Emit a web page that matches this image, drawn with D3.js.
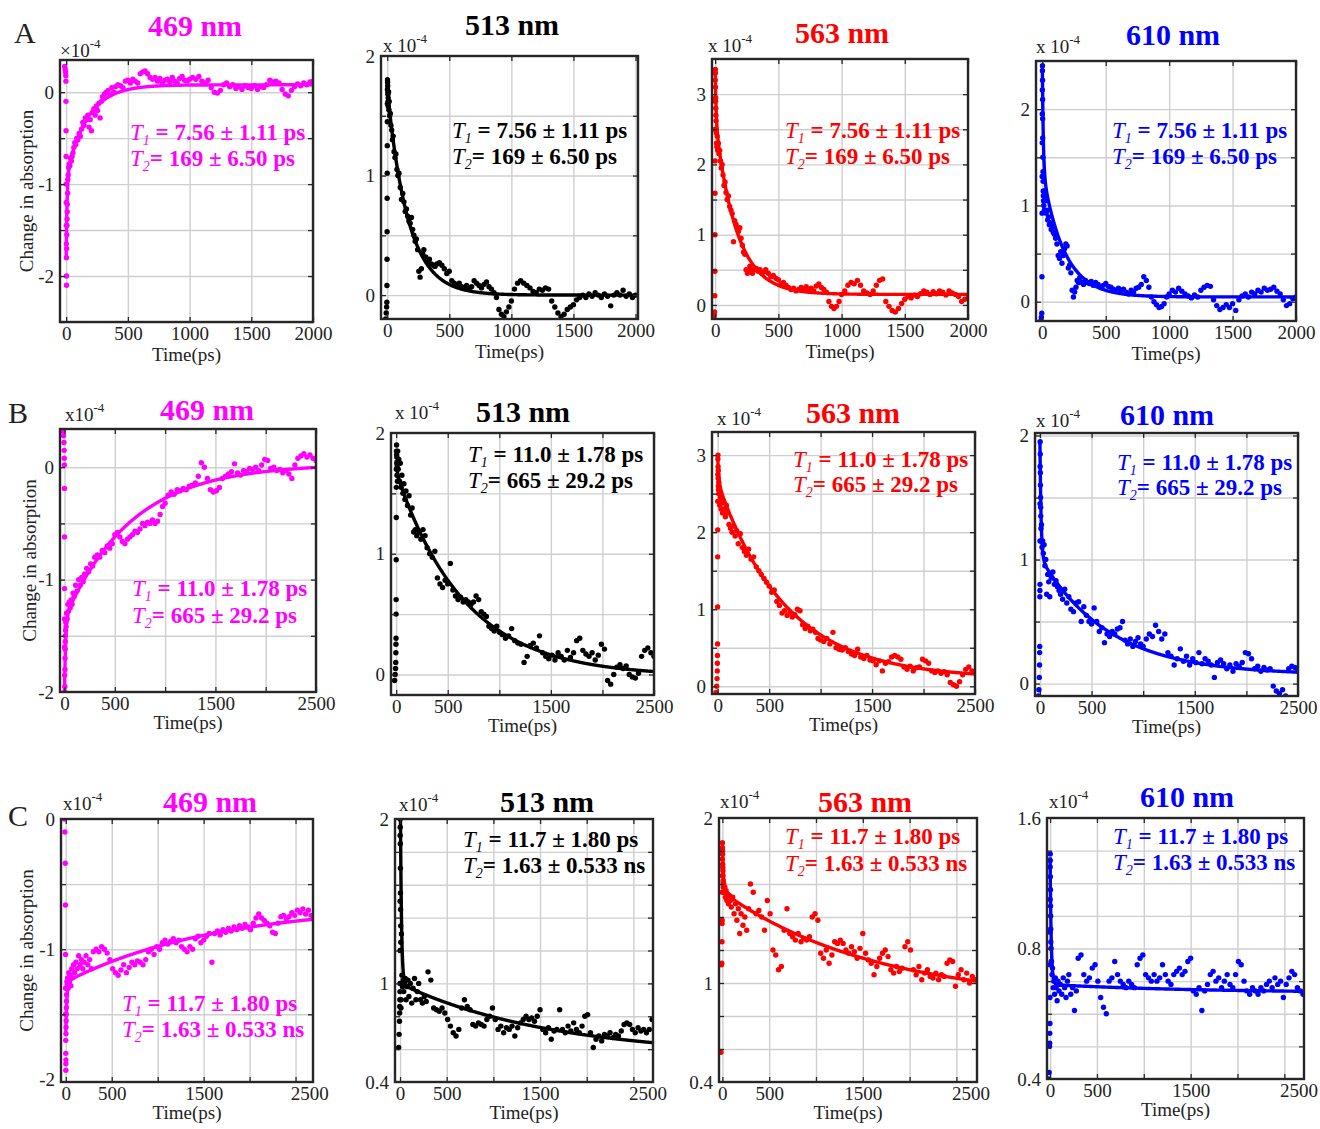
<!DOCTYPE html>
<html><head><meta charset="utf-8">
<script src="https://cdn.jsdelivr.net/npm/d3@7"></script>
<style>
body{margin:0;background:#fff}
svg{display:block}
text{font-family:"Liberation Serif","Times New Roman",Times,serif;fill:#222}
.grid line{stroke:#cfcfcf;stroke-width:1.4}
.grid path{display:none}
.tk line{stroke:#262626;stroke-width:1.3}
.tk path{display:none}
.lbl path,.lbl line{display:none}
</style>
</head><body>
<svg id="fig" width="1320" height="1129"></svg>
<script>
// ---------- delay times (ps), shared by the four probe wavelengths of a row ----------
const timeA = [-12,-8,-5,-3,-2,-1.5,-1,-0.5,0,0.5,1,1.5,2,2.5,3,4,5,6,7,8,9,
  11,13,16,20,25,30,36,42,48,55,62,70,78,86,95,105,115,125,135,145,155,165,175,185,195,205,215,225,235,245,255,265,275,285,295,
  310,325,340,355,370,385,400,420,440,460,480,500,520,540,560,580,600,620,640,660,680,700,720,740,760,780,800,820,840,860,880,900,920,940,960,980,1000,
  1025,1050,1075,1100,1125,1150,1175,1200,1225,1250,1275,1300,1325,1350,1375,1400,1425,1450,1475,1500,1525,1550,1575,1600,1625,1650,1675,1700,1725,1750,1775,1800,1825,1850,1875,1900,1925,1950,1975,2000];
const timeB = [-15,-10,-6,-4,-3,-2,-1,-0.5,0,0.5,1,1.5,2,3,4,5,6,7,8,10,12,
  15,20,26,33,40,48,56,65,75,85,95,110,125,140,155,170,185,200,220,240,260,280,300,
  325,350,375,400,425,450,475,500,525,550,575,600,625,650,675,700,725,750,775,800,825,850,875,900,925,950,975,1000,
  1030,1060,1090,1120,1150,1180,1210,1240,1270,1300,1330,1360,1390,1420,1450,1480,1510,1540,1570,1600,1630,1660,1690,1720,1750,1780,1810,1840,1870,1900,1930,1960,1990,2020,2050,2080,2110,2140,2170,2200,2230,2260,2290,2320,2350,2380,2410,2440,2470,2500];
const timeC = [-15,-10,-6,-4,-3,-2,-1,-0.5,0,0.5,1,1.5,2,3,4,5,6,7,8,10,12,
  15,20,26,33,40,48,56,65,75,85,95,110,125,140,155,170,185,200,220,240,260,280,300,
  330,360,390,420,450,480,510,540,570,600,630,660,690,720,750,780,810,840,870,900,930,960,990,1020,
  1050,1080,1110,1140,1170,1200,1230,1260,1290,1320,1350,1380,1410,1440,1470,1500,1530,1560,1590,1620,1650,1680,1710,1740,1770,1800,1830,1860,1890,1920,1950,1980,2010,2040,2070,2100,2130,2160,2190,2220,2250,2280,2310,2340,2370,2400,2430,2460,2490,2520,2550,2580,2610,2640,2670,2700];

// ---------- change in absorption (x10^-4) ----------
const dA_A469 = [0.28,0.25,0.22,0.18,0.12,-0.1,-0.42,-0.7,-1.0,-1.2,-1.45,-1.65,-1.8,-2.0,-2.1,-1.7,-1.55,-1.45,-1.38,-1.3,-1.22,
  -1.1,-0.95,-0.9,-0.82,-0.78,-0.8,-0.72,-0.75,-0.7,-0.66,-0.6,-0.55,-0.57,-0.5,-0.52,-0.45,-0.48,-0.4,-0.33,-0.36,-0.28,-0.3,-0.25,-0.38,-0.3,-0.42,-0.22,-0.18,-0.25,-0.15,-0.2,-0.12,-0.28,-0.1,-0.05,
  -0.02,0.0,0.02,-0.03,0.05,0.0,0.06,0.08,0.07,0.05,0.12,0.13,0.1,0.14,0.12,0.1,0.2,0.22,0.23,0.2,0.16,0.14,0.16,0.12,0.15,0.1,0.13,0.14,0.11,0.16,0.12,0.1,0.15,0.17,0.13,0.12,0.14,
  0.16,0.14,0.17,0.12,0.1,0.13,0.05,0.0,-0.01,0.02,0.08,0.1,0.06,0.08,0.04,0.06,0.03,0.07,0.05,0.04,0.07,0.03,0.06,0.05,0.08,0.13,0.11,0.12,0.1,0.03,-0.02,-0.04,0.02,0.06,0.09,0.07,0.1,0.08,0.11,0.12];
const dA_A513 = [-0.2,-0.15,-0.1,-0.06,0.08,0.3,0.53,0.81,1.02,1.25,1.45,1.6,1.72,1.8,1.78,1.75,1.7,1.68,1.62,1.65,1.58,
  1.7,1.55,1.62,1.5,1.52,1.42,1.38,1.3,1.33,1.2,1.15,1.18,1.05,1.0,1.02,0.9,0.8,0.85,0.78,0.7,0.72,0.66,0.62,0.6,0.65,0.55,0.5,0.45,0.47,0.38,0.2,0.15,0.22,0.35,0.38,
  0.32,0.28,0.3,0.26,0.25,0.24,0.26,0.27,0.25,0.22,0.18,0.2,0.12,0.1,0.08,0.1,0.07,0.06,0.08,0.05,0.07,0.12,0.1,0.08,0.06,0.09,0.11,0.07,0.05,0.02,-0.02,-0.12,-0.16,-0.18,-0.14,-0.1,-0.05,
  0.05,0.1,0.12,0.1,0.08,0.06,0.03,0.02,0.05,0.04,0.06,0.05,-0.05,-0.1,-0.15,-0.18,-0.16,-0.12,-0.1,-0.08,-0.04,-0.02,0.0,-0.02,0.01,-0.01,0.02,0.0,-0.02,0.01,-0.01,-0.09,0.0,0.02,0.0,0.04,-0.01,0.01,-0.02,0.0];
const dA_A563 = [-0.2,-0.15,-0.1,0.13,0.48,1.0,1.59,2.05,2.5,2.9,3.2,3.35,3.3,3.1,2.9,2.95,2.8,2.7,2.62,2.5,2.45,
  2.3,2.25,2.4,2.2,2.3,2.15,2.2,2.05,1.95,2.0,1.85,1.7,1.75,1.6,1.5,1.55,1.4,1.35,1.3,0.9,1.2,1.15,1.1,1.05,1.1,0.95,0.85,0.75,0.72,0.5,0.45,0.48,0.55,0.5,0.45,
  0.5,0.52,0.48,0.5,0.45,0.47,0.5,0.45,0.4,0.42,0.38,0.36,0.3,0.32,0.28,0.25,0.22,0.24,0.2,0.22,0.25,0.23,0.26,0.22,0.24,0.2,0.27,0.3,0.25,0.22,0.18,0.05,-0.02,-0.05,-0.02,0.05,0.15,
  0.2,0.28,0.32,0.3,0.35,0.28,0.2,0.17,0.15,0.2,0.28,0.35,0.37,0.05,-0.02,-0.08,-0.1,-0.05,0.02,0.08,0.12,0.1,0.14,0.12,0.16,0.2,0.18,0.15,0.19,0.16,0.2,0.18,0.14,0.2,0.17,0.15,0.12,0.05,0.08,0.1];
const dA_A610 = [-0.2,-0.16,-0.12,0.26,0.92,1.3,1.65,1.95,2.2,2.4,2.45,2.3,2.1,1.9,1.7,1.5,1.35,1.25,1.15,1.1,1.05,
  1.0,1.1,0.95,1.15,1.05,0.92,0.95,0.85,0.88,0.8,0.82,0.75,0.78,0.72,0.7,0.66,0.6,0.48,0.45,0.52,0.4,0.48,0.55,0.6,0.58,0.35,0.38,0.3,0.12,0.05,0.1,0.15,0.22,0.2,0.25,
  0.2,0.18,0.22,0.2,0.19,0.21,0.17,0.2,0.18,0.15,0.17,0.19,0.16,0.15,0.13,0.12,0.14,0.12,0.13,0.1,0.08,0.12,0.1,0.14,0.15,0.18,0.26,0.22,0.15,0.05,0.0,-0.03,-0.06,-0.05,-0.02,0.05,0.08,
  0.12,0.1,0.14,0.11,0.08,0.06,0.04,0.07,0.05,0.12,0.15,0.17,0.16,0.02,-0.04,-0.08,-0.06,-0.03,-0.06,-0.02,-0.09,0.02,0.06,0.08,0.05,0.1,0.08,0.12,0.1,0.14,0.12,0.13,0.15,0.11,0.08,0.02,-0.04,-0.02,0.03,0.05];

const dA_B469 = [0.32,0.28,0.22,0.15,0.08,0.02,-0.19,-0.62,-1.08,-1.35,-1.6,-1.85,-2.0,-1.95,-1.8,-1.7,-1.62,-1.55,-1.5,-1.45,-1.38,
  -1.42,-1.3,-1.35,-1.22,-1.28,-1.2,-1.25,-1.18,-1.22,-1.12,-1.15,-1.05,-1.1,-1.0,-1.05,-0.98,-1.02,-0.95,-0.9,-0.93,-0.86,-0.88,-0.8,
  -0.78,-0.8,-0.74,-0.76,-0.7,-0.72,-0.68,-0.6,-0.58,-0.62,-0.66,-0.68,-0.64,-0.62,-0.6,-0.57,-0.58,-0.55,-0.5,-0.52,-0.49,-0.5,-0.47,-0.5,-0.48,-0.42,-0.35,-0.32,
  -0.25,-0.22,-0.24,-0.2,-0.21,-0.19,-0.2,-0.17,-0.16,-0.14,-0.08,0.04,0.0,-0.1,-0.2,-0.22,-0.21,-0.18,-0.1,-0.08,-0.06,-0.04,0.03,-0.05,-0.07,-0.03,-0.04,-0.01,-0.02,0.0,
  -0.03,0.02,0.07,0.06,-0.01,0.0,-0.03,-0.02,-0.05,-0.03,-0.06,-0.1,0.02,0.08,0.1,0.12,0.09,0.11,0.08,0.06];
const dA_B513 = [-0.05,0.0,0.05,0.1,0.18,0.25,0.3,0.5,0.62,0.95,1.3,1.55,1.7,1.85,1.9,1.82,1.75,1.8,1.65,1.72,1.6,
  1.85,1.7,1.78,1.6,1.75,1.55,1.65,1.5,1.58,1.45,1.52,1.4,1.48,1.32,1.38,1.18,1.2,1.15,1.18,1.12,1.2,1.15,1.05,
  1.0,0.97,1.02,0.8,0.75,0.72,0.78,0.75,0.92,0.7,0.65,0.62,0.64,0.6,0.62,0.6,0.58,0.6,0.65,0.62,0.52,0.5,0.48,0.4,0.38,0.36,0.4,0.35,
  0.33,0.3,0.32,0.38,0.28,0.26,0.25,0.1,0.15,0.24,0.26,0.22,0.32,0.18,0.15,0.13,0.16,0.12,0.18,0.15,0.12,0.2,0.14,0.18,0.28,0.3,0.2,0.17,0.15,0.18,
  0.12,0.16,0.25,0.21,-0.05,-0.08,0.0,0.06,0.08,0.05,0.07,0.0,-0.02,-0.03,0.01,0.15,0.2,0.22,0.18,0.15];
const dA_B563 = [-0.08,0.0,0.1,0.2,0.3,0.4,0.55,1.03,1.68,2.03,2.4,2.75,2.95,3.0,2.85,2.7,2.8,2.6,2.55,2.65,2.5,
  2.4,2.35,2.45,2.3,2.38,2.25,2.4,2.3,2.2,2.35,2.25,2.1,2.05,2.0,2.08,1.95,2.02,1.85,1.98,1.8,1.75,1.7,1.78,
  1.65,1.68,1.55,1.5,1.45,1.4,1.35,1.3,1.22,1.25,1.1,1.05,0.95,0.98,0.92,0.95,0.9,0.93,1.0,0.98,0.8,0.75,0.78,0.72,0.74,0.7,0.62,0.6,
  0.58,0.62,0.55,0.7,0.5,0.48,0.47,0.5,0.45,0.42,0.4,0.48,0.38,0.36,0.4,0.34,0.33,0.28,0.33,0.2,0.3,0.32,0.38,0.4,0.38,0.35,0.25,0.22,0.26,0.2,
  0.24,0.25,0.35,0.33,0.3,0.2,0.18,0.2,0.17,0.19,0.15,0.05,0.02,0.0,0.06,0.15,0.22,0.25,0.2,0.18];
const dA_B610 = [-0.1,-0.05,0.05,0.15,0.25,0.3,0.7,0.75,0.8,1.15,1.45,1.75,1.95,1.85,1.7,1.6,1.5,1.42,1.35,1.25,1.15,
  1.28,1.1,1.15,1.05,1.12,0.95,1.0,0.72,0.88,0.82,0.7,0.85,0.9,0.8,0.83,0.78,0.75,0.72,0.68,0.76,0.65,0.7,0.6,
  0.58,0.65,0.66,0.5,0.62,0.55,0.5,0.48,0.61,0.5,0.42,0.45,0.33,0.4,0.38,0.42,0.4,0.44,0.45,0.5,0.35,0.32,0.36,0.3,0.34,0.37,0.32,0.3,
  0.36,0.4,0.38,0.47,0.42,0.36,0.4,0.25,0.22,0.15,0.2,0.28,0.18,0.22,0.15,0.2,0.17,0.25,0.16,0.2,0.18,0.15,0.05,0.17,0.19,0.16,0.12,0.15,0.1,0.16,
  0.14,0.17,0.25,0.24,0.2,0.12,0.14,0.1,0.13,0.11,0.12,-0.02,-0.06,-0.08,-0.05,-0.1,0.12,0.14,0.13,0.1];

const dA_C469 = [0.0,-0.1,-0.34,-0.66,-1.04,-1.3,-1.5,-1.7,-1.8,-1.93,-1.88,-1.85,-1.65,-1.6,-1.55,-1.5,-1.45,-1.4,-1.35,-1.3,-1.25,
  -1.28,-1.22,-1.3,-1.18,-1.25,-1.2,-1.28,-1.15,-1.22,-1.12,-1.18,-1.1,-1.15,-1.05,-1.12,-1.08,-1.15,-1.1,-1.05,-1.12,-1.08,-1.15,-1.02,
  -1.0,-1.02,-0.98,-1.0,-1.03,-1.08,-1.15,-1.18,-1.2,-1.16,-1.12,-1.18,-1.14,-1.1,-1.12,-1.09,-1.1,-1.12,-1.08,-1.02,-1.0,-1.04,-0.98,-1.0,
  -0.95,-0.93,-0.96,-0.94,-0.92,-0.95,-0.93,-0.98,-1.0,-1.02,-0.98,-1.0,-0.92,-0.9,-0.95,-0.93,-0.9,-0.88,-1.1,-0.88,
  -0.86,-0.89,-0.85,-0.87,-0.84,-0.86,-0.83,-0.85,-0.82,-0.84,-0.81,-0.83,-0.85,-0.8,-0.76,-0.73,-0.76,-0.78,-0.8,-0.82,
  -0.87,-0.88,-0.8,-0.75,-0.74,-0.77,-0.75,-0.72,-0.74,-0.7,-0.72,-0.69,-0.73,-0.7,-0.74,-0.76];
const dA_C513 = [0.61,0.69,0.77,0.82,0.86,0.9,0.95,1.0,1.2,1.5,1.9,2.0,1.95,1.85,1.7,1.55,1.45,1.35,1.25,0.85,0.9,
  1.3,1.05,0.98,1.02,0.95,1.0,1.03,0.9,0.98,1.02,0.92,1.0,0.88,0.97,1.03,0.9,0.95,1.0,0.9,0.88,0.92,0.89,1.07,
  1.02,0.85,0.84,0.83,0.85,0.82,0.78,0.74,0.7,0.68,0.72,0.85,0.9,0.86,0.84,0.75,0.74,0.76,0.75,0.74,0.78,0.8,0.85,0.78,
  0.72,0.74,0.7,0.73,0.72,0.74,0.68,0.73,0.76,0.78,0.8,0.78,0.79,0.77,0.8,0.84,0.72,0.7,0.73,0.66,
  0.71,0.72,0.84,0.72,0.7,0.74,0.71,0.76,0.72,0.7,0.74,0.8,0.81,0.7,0.61,0.66,0.68,0.65,0.69,0.68,
  0.7,0.67,0.69,0.68,0.71,0.75,0.76,0.75,0.72,0.7,0.73,0.71,0.72,0.7,0.72,0.78];
const dA_C563 = [0.58,1.11,1.12,1.25,1.36,1.38,1.55,1.65,1.75,1.85,1.82,1.78,1.8,1.72,1.7,1.65,1.68,1.6,1.62,1.58,1.55,
  1.6,1.55,1.58,1.52,1.56,1.5,1.54,1.48,1.53,1.5,1.46,1.52,1.42,1.48,1.38,1.45,1.3,1.42,1.35,1.4,1.32,1.45,1.6,
  1.55,1.42,1.44,1.4,1.32,1.5,1.42,1.2,1.17,1.08,1.1,1.32,1.45,1.3,1.28,1.26,1.3,1.25,1.27,1.26,1.28,1.4,1.42,1.38,
  1.18,1.15,1.2,1.12,1.17,1.25,1.24,1.26,1.24,1.2,1.18,1.22,1.19,1.15,1.21,1.3,1.18,1.14,1.12,1.05,
  1.1,1.15,1.18,1.2,1.16,1.08,1.06,1.1,1.07,1.09,1.22,1.25,1.2,1.08,1.05,1.1,1.02,1.06,1.08,1.04,
  1.03,1.06,1.02,1.05,1.04,1.12,1.14,1.13,0.98,1.05,1.08,1.02,1.06,1.0,1.04,1.02];
const dA_C610 = [0.4,0.42,0.5,0.51,0.54,0.57,0.65,0.75,0.85,0.95,1.05,1.09,1.07,1.02,0.98,0.93,0.9,0.86,0.82,0.8,0.76,
  0.76,0.72,0.74,0.68,0.7,0.66,0.71,0.68,0.64,0.7,0.67,0.69,0.66,0.71,0.68,0.65,0.7,0.72,0.66,0.68,0.61,0.67,0.77,
  0.78,0.72,0.7,0.71,0.74,0.75,0.7,0.65,0.62,0.6,0.7,0.71,0.76,0.72,0.7,0.69,0.68,0.7,0.69,0.68,0.75,0.77,0.78,0.72,
  0.71,0.7,0.72,0.7,0.71,0.75,0.72,0.7,0.69,0.72,0.73,0.74,0.72,0.73,0.76,0.77,0.67,0.66,0.68,0.61,
  0.67,0.69,0.72,0.73,0.7,0.71,0.68,0.7,0.72,0.69,0.68,0.72,0.76,0.75,0.7,0.67,0.66,0.68,0.67,0.66,
  0.68,0.67,0.69,0.7,0.68,0.71,0.69,0.7,0.65,0.69,0.71,0.73,0.72,0.68,0.67,0.66];

// ---------- fitted lifetimes as printed: [value, error, unit] ----------
const tauA = [["7.56","1.11","ps"],["169","6.50","ps"]];
const tauB = [["11.0","1.78","ps"],["665","29.2","ps"]];
const tauC = [["11.7","1.80","ps"],["1.63","0.533","ns"]];

// biexponential fit amplitudes [fast, slow, offset] (x10^-4)
const ampA = [[-0.88,-1.0,0.08],[0.1,1.72,0.0],[0.72,2.48,0.15],[1.08,1.32,0.05]];
const ampB = [[-0.65,-1.38,0.03],[0.1,1.69,-0.015],[0.35,2.55,0.1],[0.93,0.95,0.07]];
const ampC = [[-0.4,-0.596,-0.656],[1.5,0.444,0.555],[0.3,0.667,0.885],[0.39,0.0255,0.664]];

const wavelengths = ["469 nm","513 nm","563 nm","610 nm"];
const traceColors = ["#ff00ff","#000000","#ff0000","#0000ff"];
const rowLetters = ["A","B","C"];

// axis ticks / labels
const xGridA = [0,500,1000,1500,2000];
const xLabA = [[0,"0"],[500,"500"],[1000,"1000"],[1500,"1500"],[2000,"2000"]];
const xGridBC = [0,500,1000,1500,2000,2500];
const xLabB = [[0,"0"],[500,"500"],[1500,"1500"],[2500,"2500"]];
const xLabC = [[0,"0"],[500,"500"],[1500,"1500"],[2650,"2500"]];

const yLabNeg2 = [[0,"0"],[-1,"-1"],[-2,"-2"]];
const yLab2 = [[0,"0"],[1,"1"],[2,"2"]];
const yLab3 = [[0,"0"],[1,"1"],[2,"2"],[3,"3"]];
const yLabC2 = [[0.4,"0.4"],[1,"1"],[2,"2"]];
const yLabC4 = [[0.4,"0.4"],[0.8,"0.8"],[1.2,"1.6"]];

// ---------- layout of the 3 x 4 grid of axes ----------
const rows = [
  {letter:[14,43], times:timeA, tau:tauA, amp:ampA, xGrid:xGridA, xLab:xLabA, xTitleDy:39,
   data:[dA_A469,dA_A513,dA_A563,dA_A610], ylabelX:33,
   panels:[
    {box:[60,60,313,322], xDom:[-50,2000], yDom:[-2.5,0.35], yGrid:d3.range(-2.5,0.01,0.5), yLab:yLabNeg2, title:[195,36], note:[130,140,166], exp:["×10",60,57]},
    {box:[381,56,638,319], xDom:[-50,2020], yDom:[-0.2,2], yGrid:[0,0.5,1,1.5], yLab:yLab2, title:[512,35], note:[452,138,164], exp:["x 10",383,52]},
    {box:[712,59,968,319], xDom:[-25,2000], yDom:[-0.2,3.5], yGrid:[0,0.5,1,1.5,2,2.5,3], yLab:yLab3, title:[842,43], note:[785,138,164], exp:["x 10",708,52]},
    {box:[1036,61,1296,321], xDom:[-50,2000], yDom:[-0.2,2.5], yGrid:[0,0.5,1,1.5,2], yLab:yLab2, title:[1173,45], note:[1112,138,164], exp:["x 10",1036,53]}
   ]},
  {letter:[8,423], times:timeB, tau:tauB, amp:ampB, xGrid:xGridBC, xLab:xLabB, xTitleDy:37,
   data:[dA_B469,dA_B513,dA_B563,dA_B610], ylabelX:36,
   panels:[
    {box:[60,429,316,692], xDom:[-45,2500], yDom:[-2,0.34], yGrid:[-1.5,-1,-0.5,0], yLab:yLabNeg2, title:[207,420], note:[132,596,623], exp:["x10",65,421]},
    {box:[391,433,654,695], xDom:[-50,2500], yDom:[-0.17,2], yGrid:[0,0.5,1,1.5], yLab:yLab2, title:[523,422], note:[468,462,488], exp:["x 10",395,419]},
    {box:[712,432,975,694], xDom:[-55,2500], yDom:[-0.1,3.3], yGrid:[0,0.5,1,1.5,2,2.5,3], yLab:yLab3, title:[853,423], note:[793,467,492], exp:["x 10",717,425]},
    {box:[1035,433,1298,696], xDom:[-48,2500], yDom:[-0.1,2.02], yGrid:[0,0.5,1,1.5,2], yLab:yLab2, title:[1167,425], note:[1117,470,495], exp:["x 10",1036,427]}
   ]},
  {letter:[8,826], times:timeC, tau:tauC, amp:ampC, xGrid:xGridBC, xLab:xLabC, xTitleDy:37,
   data:[dA_C469,dA_C513,dA_C563,dA_C610], ylabelX:33,
   panels:[
    {box:[61,819,313,1082], xDom:[-52,2690], yDom:[-2.02,0], yGrid:[-1.5,-1,-0.5], yLab:yLabNeg2, title:[210,812], note:[122,1011,1037], exp:["x10",63,810]},
    {box:[395,819,653,1082], xDom:[-54,2710], yDom:[0.4,2], yGrid:d3.range(0.6,1.99,0.2), yLab:yLabC2, title:[547,812], note:[463,847,873], exp:["x10",399,811]},
    {box:[719,818,977,1082], xDom:[-36,2720], yDom:[0.4,2], yGrid:d3.range(0.6,1.99,0.2), yLab:yLabC2, title:[865,812], note:[785,844,871], exp:["x10",720,808]},
    {box:[1047,818,1304,1079], xDom:[-33,2710], yDom:[0.4,1.2], yGrid:d3.range(0.5,1.19,0.1), yLab:yLabC4, title:[1187,807], note:[1113,844,870], exp:["x10",1049,808]}
   ]}
];

const svg = d3.select("#fig");
const toPs = ([v,,u]) => parseFloat(v) * (u === "ns" ? 1000 : 1);

function styleText(sel, size){
  sel.selectAll("text").attr("font-family",'"Liberation Serif","Times New Roman",Times,serif')
     .attr("font-size",size).attr("fill","#262626");
}

rows.forEach((row, ri) => {
  svg.append("text").attr("x",row.letter[0]).attr("y",row.letter[1])
     .attr("font-size",30).text(rowLetters[ri]);

  row.panels.forEach((p, ci) => {
    const [x0,y0,x1,y1] = p.box, w = x1-x0, h = y1-y0;
    const color = traceColors[ci];
    const x = d3.scaleLinear().domain(p.xDom).range([0,w]);
    const y = d3.scaleLinear().domain(p.yDom).range([h,0]);
    const g = svg.append("g").attr("transform",`translate(${x0},${y0})`);
    const clipId = `clip-${ri}-${ci}`;
    g.append("clipPath").attr("id",clipId).append("rect").attr("width",w).attr("height",h);

    // grid
    g.append("g").attr("class","grid").attr("transform",`translate(0,${h})`)
      .call(d3.axisBottom(x).tickValues(row.xGrid).tickSize(-h).tickFormat(""));
    g.append("g").attr("class","grid")
      .call(d3.axisLeft(y).tickValues(p.yGrid).tickSize(-w).tickFormat(""));

    // measured points
    const pts = row.times.map((t,i) => [t, row.data[ci][i]]).filter(d => d[1] !== undefined);
    const plot = g.append("g").attr("clip-path",`url(#${clipId})`);
    plot.selectAll("circle").data(pts).join("circle")
      .attr("cx",d => x(d[0])).attr("cy",d => y(d[1])).attr("r",2.7).attr("fill",color);

    // biexponential fit using the printed lifetimes
    const [tau1, tau2] = row.tau.map(toPs);
    const [a1, a2, c0] = row.amp[ci];
    const tFit = d3.range(0, 60, 0.25).concat(d3.range(60, p.xDom[1] + 5, 5));
    const fit = tFit.map(t => [t, a1*Math.exp(-t/tau1) + a2*Math.exp(-t/tau2) + c0]);
    plot.append("path").datum(fit)
      .attr("fill","none").attr("stroke",color).attr("stroke-width",3.4)
      .attr("stroke-linejoin","round")
      .attr("d", d3.line().x(d => x(d[0])).y(d => y(d[1])));

    // inward tick marks on all four sides
    const tl = 5;
    g.append("g").attr("class","tk").attr("transform",`translate(0,${h})`)
      .call(d3.axisBottom(x).tickValues(row.xGrid).tickSize(-tl).tickFormat(""));
    g.append("g").attr("class","tk")
      .call(d3.axisTop(x).tickValues(row.xGrid).tickSize(-tl).tickFormat(""));
    g.append("g").attr("class","tk")
      .call(d3.axisLeft(y).tickValues(p.yGrid).tickSize(-tl).tickFormat(""));
    g.append("g").attr("class","tk").attr("transform",`translate(${w},0)`)
      .call(d3.axisRight(y).tickValues(p.yGrid).tickSize(-tl).tickFormat(""));

    // frame
    g.append("rect").attr("width",w).attr("height",h)
      .attr("fill","none").attr("stroke","#262626").attr("stroke-width",2.4);

    // tick labels
    const xl = g.append("g").attr("class","lbl").attr("transform",`translate(0,${h})`)
      .call(d3.axisBottom(x).tickValues(row.xLab.map(d=>d[0]))
            .tickFormat((d,i) => row.xLab[i][1]).tickSize(0).tickPadding(5));
    styleText(xl, 19);
    const yl = g.append("g").attr("class","lbl")
      .call(d3.axisLeft(y).tickValues(p.yLab.map(d=>d[0]))
            .tickFormat((d,i) => p.yLab[i][1]).tickSize(0).tickPadding(6));
    styleText(yl, 19);

    // exponent
    const ex = svg.append("text").attr("x",p.exp[1]).attr("y",p.exp[2]).attr("font-size",19);
    ex.append("tspan").text(p.exp[0]);
    ex.append("tspan").attr("dy",-9).attr("font-size",13).text("-4");

    // axis titles
    svg.append("text").attr("x",x0 + w/2).attr("y",y1 + row.xTitleDy)
      .attr("text-anchor","middle").attr("font-size",19).text("Time(ps)");
    if (ci === 0) {
      svg.append("text").attr("transform",`translate(${row.ylabelX},${y0 + h/2}) rotate(-90)`)
        .attr("text-anchor","middle").attr("font-size",19).text("Change in absorption");
    }

    // wavelength title
    svg.append("text").attr("x",p.title[0]).attr("y",p.title[1]).attr("text-anchor","middle")
      .attr("font-size",30).attr("font-weight","bold").style("fill",color).text(wavelengths[ci]);

    // lifetime annotation
    row.tau.forEach((tv, k) => {
      const t = svg.append("text").attr("x",p.note[0]).attr("y",p.note[1+k])
        .attr("font-size",23).style("fill",color);
      t.append("tspan").attr("font-style","italic").text("T");
      t.append("tspan").attr("font-style","italic").attr("font-size",14).attr("dy",5).text(String(k+1));
      t.append("tspan").attr("font-weight","bold").attr("dy",-5)
        .text(`${k === 0 ? " " : ""}= ${tv[0]} ± ${tv[1]} ${tv[2]}`);
    });
  });
});
</script>
</body></html>
